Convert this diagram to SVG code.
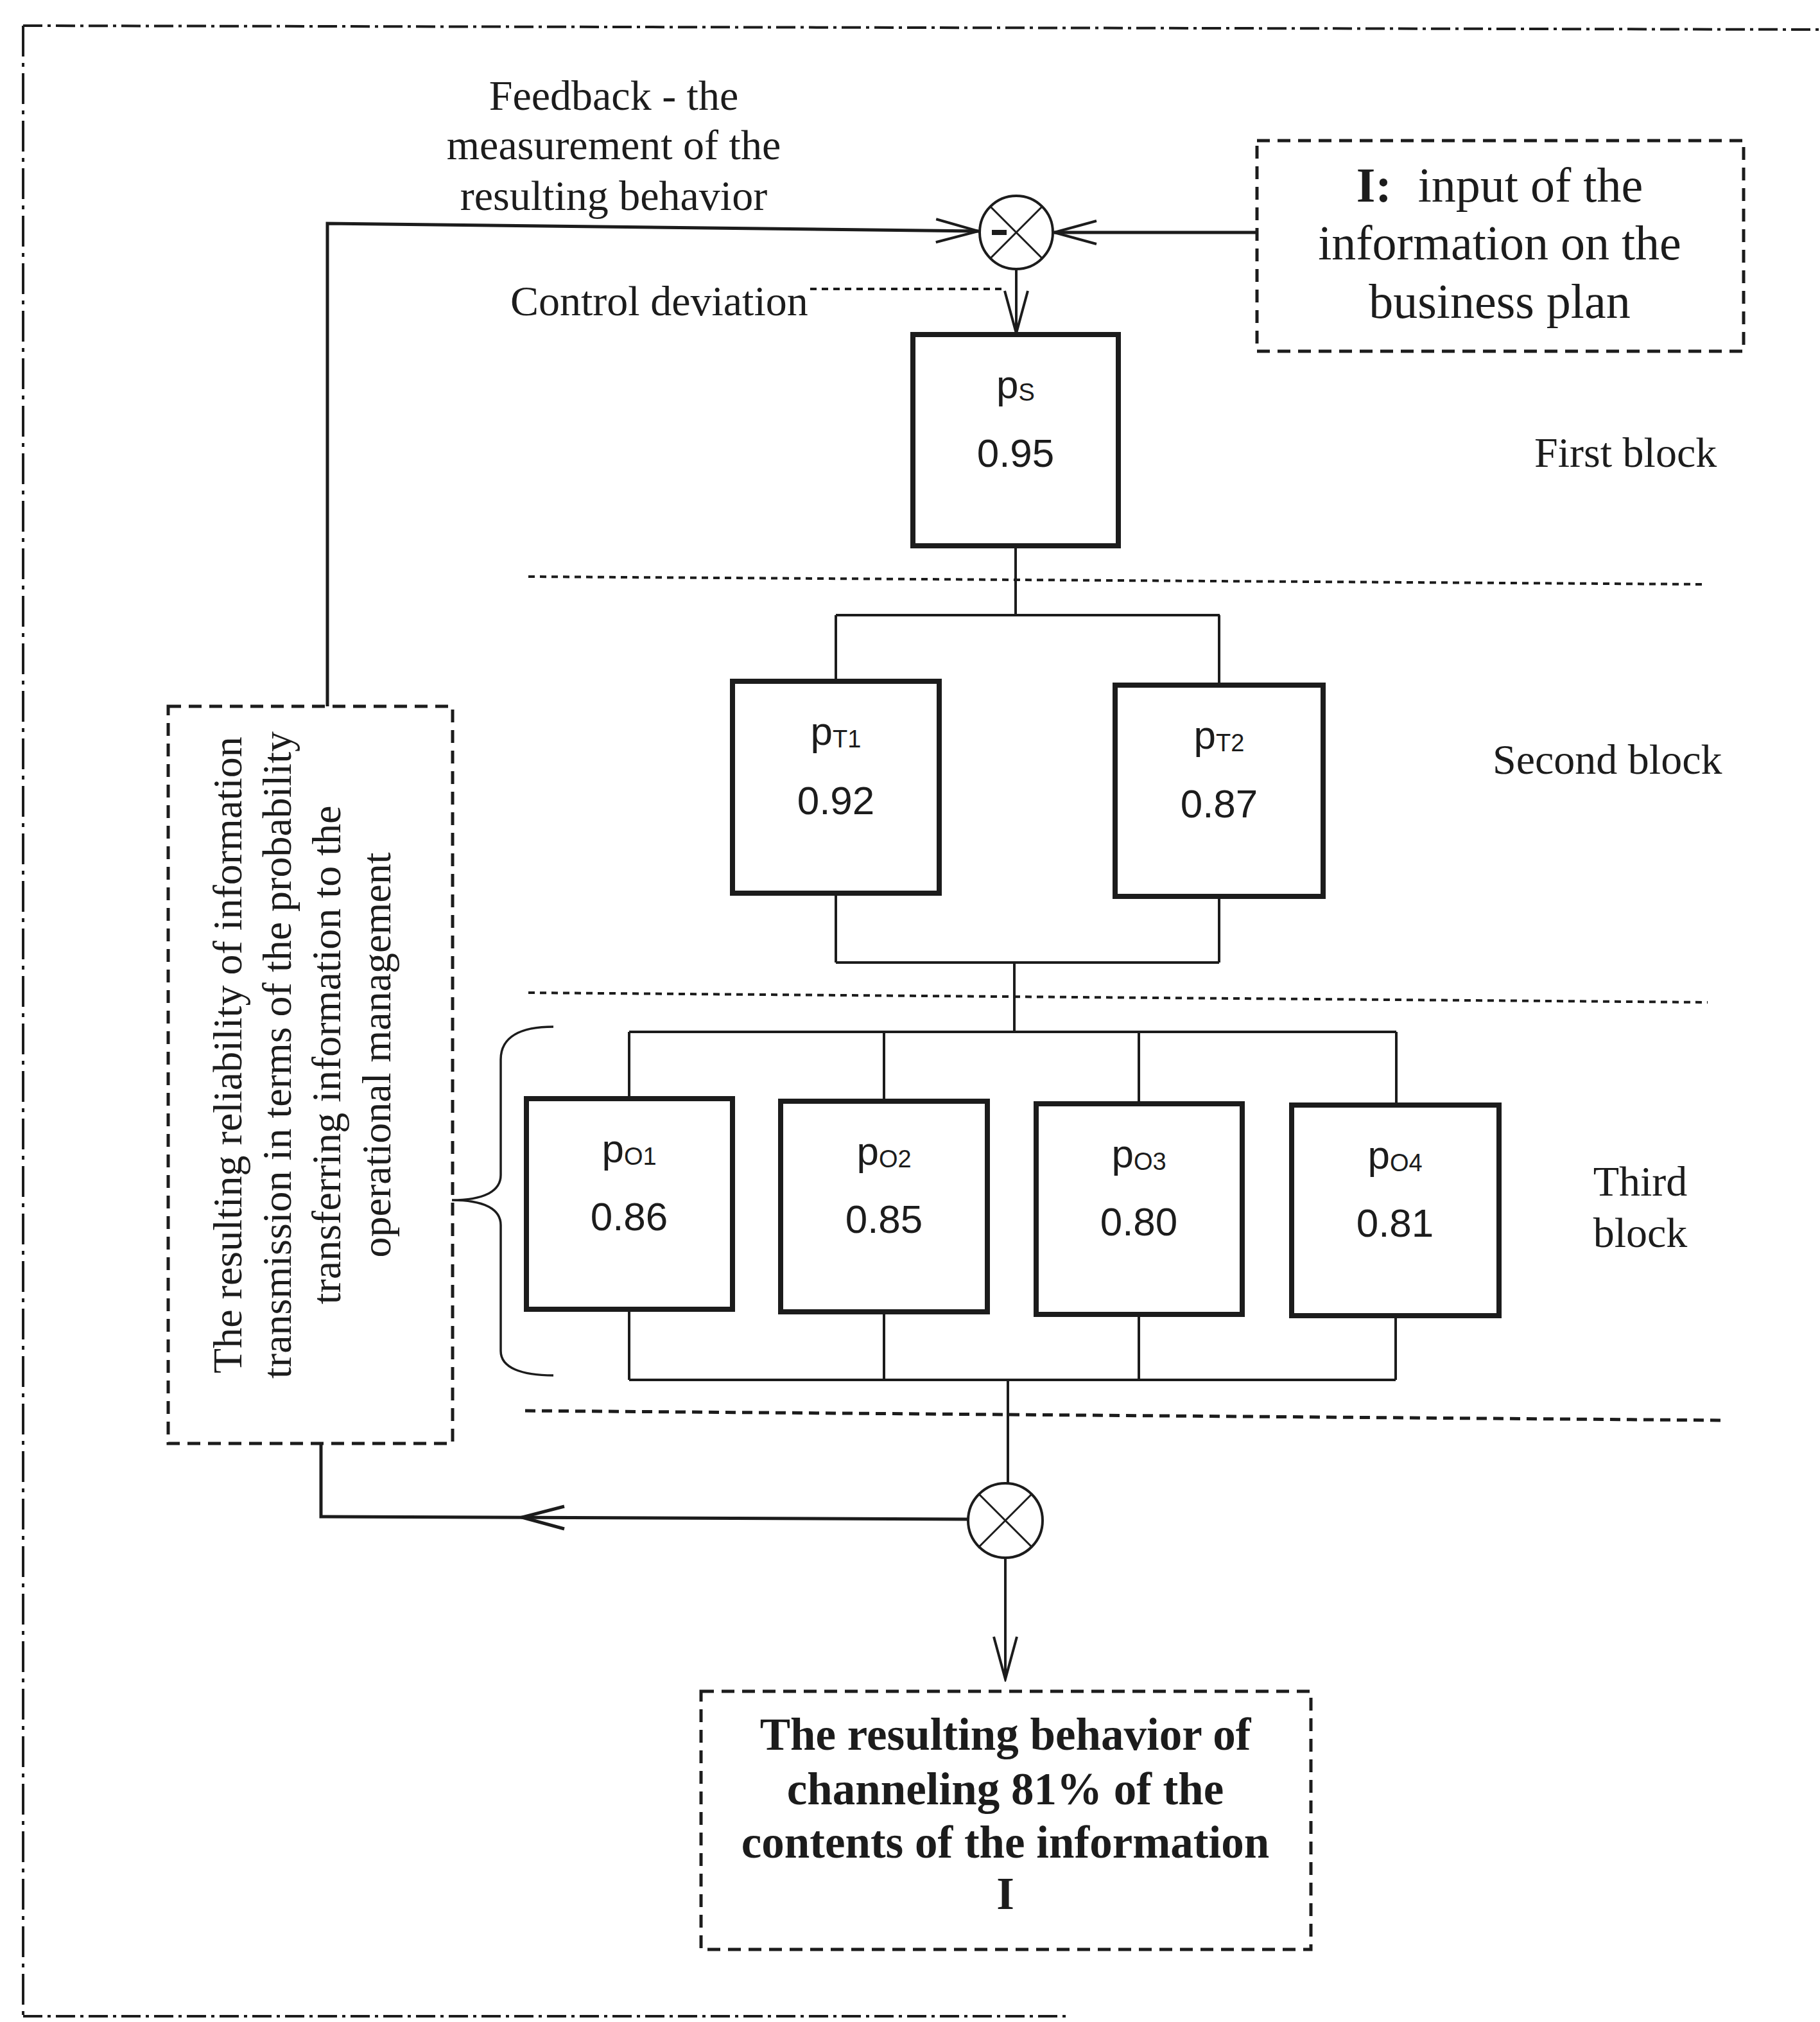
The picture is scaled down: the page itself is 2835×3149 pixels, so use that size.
<svg xmlns="http://www.w3.org/2000/svg" width="2835" height="3149" viewBox="0 0 2835 3149">
<defs>
<style>
.ser{font-family:"Liberation Serif","Times New Roman",serif;fill:#1c1c1c}
.lbl{font-size:66px}
.inp{font-size:76px}
.res{font-size:71px;font-weight:bold}
.vt{font-size:64px}
.san{font-family:"Liberation Sans",Arial,sans-serif;fill:#1c1c1c;text-anchor:middle}
.pn{font-size:62px}
.sub{font-size:38px}
.val{font-size:62px}
.box{fill:none;stroke:#1c1c1c;stroke-width:8}
.dbox{fill:none;stroke:#1c1c1c;stroke-width:5;stroke-dasharray:20 12}
.sep{fill:none;stroke:#1c1c1c;stroke-width:4;stroke-dasharray:10 8}
.sep2{fill:none;stroke:#1c1c1c;stroke-width:5;stroke-dasharray:16 10}
.ln{fill:none;stroke:#1c1c1c;stroke-width:4}
.fb{fill:none;stroke:#1c1c1c;stroke-width:5}
.outer{fill:none;stroke:#1c1c1c;stroke-width:4}
</style>
<marker id="arr" markerUnits="userSpaceOnUse" viewBox="-70 -22 74 44" markerWidth="74" markerHeight="44" refX="0" refY="0" orient="auto">
<path d="M-66,-18 L0,0 L-66,18" fill="none" stroke="#1c1c1c" stroke-width="4"/>
</marker>
</defs>
<rect width="2835" height="3149" fill="#ffffff"/>

<!-- outer dash-dot border -->
<g id="outer-border">
<path class="outer" d="M36,40 L2835,46" stroke-dasharray="30 8 5 8"/>
<path class="outer" d="M36,40 L36,3140" stroke-dasharray="48 10 6 10"/>
<path class="outer" d="M36,3140 L1665,3140" stroke-dasharray="30 8 5 8"/>
</g>

<!-- separators -->
<g id="separators">
<path class="sep" d="M823,898 L2656,910"/>
<path class="sep" d="M823,1546 L2660,1561"/>
<path class="sep2" d="M818,2197 L2687,2212"/>
</g>

<!-- connectors -->
<g id="connectors">
<polyline class="fb" points="510,1100 510,348 1524,360" marker-end="url(#arr)"/>
<line class="fb" x1="1958" y1="362" x2="1642" y2="362" marker-end="url(#arr)"/>
<line class="ln" x1="1583" y1="419" x2="1583" y2="519" marker-end="url(#arr)"/>
<path class="sep" d="M1262,450 H1566"/>
<path class="ln" d="M1582,850 V958 M1302,958 H1900 M1302,958 V1061 M1899,958 V1067"/>
<path class="ln" d="M1302,1391 V1499 M1899,1396 V1499 M1302,1499 H1899 M1580,1499 V1607"/>
<path class="ln" d="M980,1607 H2175 M980,1607 V1711 M1377,1607 V1715 M1774,1607 V1719 M2175,1607 V1721"/>
<path class="ln" d="M980,2039 V2149 M1377,2043 V2149 M1774,2047 V2149 M2174,2049 V2149 M980,2149 H2174"/>
<path class="ln" d="M1570,2149 V2310"/>
<line class="ln" x1="1566" y1="2426" x2="1566" y2="2615" marker-end="url(#arr)"/>
<polyline class="fb" points="1508,2366 500,2362 500,2248"/>
<path class="fb" d="M879,2346 L813,2363 L879,2381"/>
<path d="M862,1599 C812,1599 780,1614 780,1650 V1830 C780,1856 752,1869 704,1869 C752,1869 780,1882 780,1908 V2104 C780,2130 812,2142 862,2142" fill="none" stroke="#1c1c1c" stroke-width="3.5"/>
</g>

<!-- summing junctions -->
<g id="junction-top">
<circle cx="1583" cy="362" r="57" fill="#fff" stroke="#1c1c1c" stroke-width="4"/>
<path d="M1543,322 L1623,402 M1623,322 L1543,402" stroke="#1c1c1c" stroke-width="3"/>
<path d="M1545,362 H1568" stroke="#1c1c1c" stroke-width="8"/>
</g>
<g id="junction-bottom">
<circle cx="1566" cy="2368" r="58" fill="#fff" stroke="#1c1c1c" stroke-width="4"/>
<path d="M1525,2327 L1607,2409 M1607,2327 L1525,2409" stroke="#1c1c1c" stroke-width="3"/>
</g>

<!-- labels -->
<g id="feedback-label">
<text class="ser lbl" text-anchor="middle" x="956" y="171">Feedback - the</text>
<text class="ser lbl" text-anchor="middle" x="956" y="248">measurement of the</text>
<text class="ser lbl" text-anchor="middle" x="956" y="327">resulting behavior</text>
</g>
<g id="control-deviation-label">
<text class="ser lbl" x="795" y="491">Control deviation</text>
</g>

<g id="input-box">
<rect class="dbox" x="1958" y="219" width="758" height="328"/>
<text class="ser inp" text-anchor="middle" x="2336" y="314"><tspan font-weight="bold">I:</tspan><tspan dx="22"> input of the</tspan></text>
<text class="ser inp" text-anchor="middle" x="2336" y="404">information on the</text>
<text class="ser inp" text-anchor="middle" x="2336" y="495">business plan</text>
</g>

<g id="block-labels">
<text class="ser lbl" x="2390" y="727">First block</text>
<text class="ser lbl" x="2325" y="1205">Second block</text>
<text class="ser lbl" text-anchor="middle" x="2555" y="1862">Third</text>
<text class="ser lbl" text-anchor="middle" x="2555" y="1942">block</text>
</g>

<!-- nodes -->
<g id="node-ps">
<rect class="box" x="1422" y="521" width="320" height="329"/>
<text class="san pn" x="1582" y="620">p<tspan class="sub" dy="4">S</tspan></text>
<text class="san val" x="1582" y="727">0.95</text>
</g>
<g id="node-pt1">
<rect class="box" x="1141" y="1061" width="322" height="330"/>
<text class="san pn" x="1302" y="1160">p<tspan class="sub" dy="4">T1</tspan></text>
<text class="san val" x="1302" y="1268">0.92</text>
</g>
<g id="node-pt2">
<rect class="box" x="1737" y="1067" width="324" height="329"/>
<text class="san pn" x="1899" y="1166">p<tspan class="sub" dy="4">T2</tspan></text>
<text class="san val" x="1899" y="1273">0.87</text>
</g>
<g id="node-po1">
<rect class="box" x="820" y="1711" width="321" height="328"/>
<text class="san pn" x="980" y="1810">p<tspan class="sub" dy="4">O1</tspan></text>
<text class="san val" x="980" y="1916">0.86</text>
</g>
<g id="node-po2">
<rect class="box" x="1216" y="1715" width="322" height="328"/>
<text class="san pn" x="1377" y="1814">p<tspan class="sub" dy="4">O2</tspan></text>
<text class="san val" x="1377" y="1920">0.85</text>
</g>
<g id="node-po3">
<rect class="box" x="1614" y="1719" width="321" height="328"/>
<text class="san pn" x="1774" y="1818">p<tspan class="sub" dy="4">O3</tspan></text>
<text class="san val" x="1774" y="1924">0.80</text>
</g>
<g id="node-po4">
<rect class="box" x="2012" y="1721" width="323" height="328"/>
<text class="san pn" x="2173" y="1820">p<tspan class="sub" dy="4">O4</tspan></text>
<text class="san val" x="2173" y="1926">0.81</text>
</g>

<g id="reliability-box">
<rect class="dbox" x="262" y="1100" width="443" height="1148"/>
<text class="ser vt" text-anchor="middle" transform="translate(376,1643) rotate(-90)">The resulting reliability of information</text>
<text class="ser vt" text-anchor="middle" transform="translate(453,1643) rotate(-90)">transmission in terms of the probability</text>
<text class="ser vt" text-anchor="middle" transform="translate(530,1643) rotate(-90)">transferring information to the</text>
<text class="ser vt" text-anchor="middle" transform="translate(608,1643) rotate(-90)">operational management</text>
</g>

<g id="result-box">
<rect class="dbox" x="1092" y="2634" width="950" height="402"/>
<text class="ser res" text-anchor="middle" x="1566" y="2725">The resulting behavior of</text>
<text class="ser res" text-anchor="middle" x="1566" y="2810">channeling 81% of the</text>
<text class="ser res" text-anchor="middle" x="1566" y="2893">contents of the information</text>
<text class="ser res" text-anchor="middle" x="1566" y="2973">I</text>
</g>
</svg>
